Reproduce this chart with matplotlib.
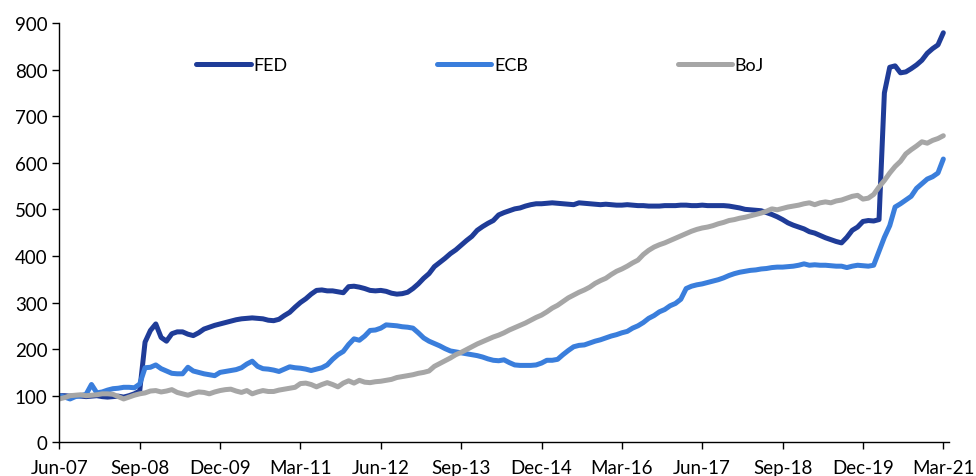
import matplotlib
matplotlib.use("Agg")
import matplotlib.pyplot as plt

plt.rcParams['font.family'] = ['Lato', 'DejaVu Sans']

# Monthly index (Jun-07 = 100), Jun-07 .. Mar-21
fed = [100, 100, 99, 100, 99, 98, 99, 100, 98, 97, 98, 99, 97, 100, 104, 110,
       215, 240, 254, 225, 217, 233, 237, 237, 232, 229, 235, 243, 247, 251,
       254, 257, 260, 263, 265, 266, 267, 266, 265, 262, 261, 264, 272, 279,
       290, 300, 308, 318, 326, 327, 325, 325, 323, 321, 334, 335, 333, 330,
       326, 325, 326, 324, 320, 318, 319, 322, 330, 340, 352, 362, 377, 386,
       395, 405, 413, 423, 433, 442, 455, 463, 470, 476, 488, 493, 497, 501,
       503, 507, 510, 512, 512, 513, 514, 513, 512, 511, 510, 514, 513, 512,
       511, 510, 511, 510, 509, 509, 510, 509, 508, 508, 507, 507, 507, 508,
       508, 508, 509, 509, 508, 508, 509, 508, 508, 508, 508, 507, 505, 503, 500,
       499, 498, 497, 493, 489, 484, 478, 471, 466, 462, 458, 452, 449, 444,
       439, 435, 431, 428, 440, 455, 462, 474, 476, 475, 478, 750, 805, 808,
       793, 795, 802, 810, 820, 835, 845, 853, 879]

ecb = [100, 97, 93, 98, 100, 103, 124, 106, 108, 112, 115, 116, 118, 118, 117,
       125, 160, 161, 166, 158, 153, 148, 147, 147, 161, 153, 150, 147, 145,
       143, 150, 152, 154, 156, 160, 168, 174, 163, 158, 157, 155, 152, 157,
       162, 160, 159, 157, 154, 157, 160, 166, 178, 188, 195, 210, 222, 219,
       228, 240, 241, 245, 252, 251, 250, 248, 247, 245, 235, 224, 217, 212,
       207, 201, 196, 194, 192, 190, 188, 186, 183, 179, 176, 175, 177, 171,
       166, 165, 165, 165, 166, 170, 176, 176, 178, 188, 197, 205, 208, 209,
       213, 217, 220, 224, 228, 231, 235, 238, 245, 250, 257, 266, 272, 280,
       285, 293, 298, 307, 330, 335, 338, 340, 343, 346, 349, 353, 358, 362,
       365, 367, 369, 370, 372, 373, 375, 376, 376, 377, 378, 380, 383, 380,
       381, 380, 380, 379, 378, 378, 375, 378, 380, 379, 378, 380, 410, 440,
       465, 505, 512, 520, 528, 545, 555, 565, 570, 578, 608]

boj = [93, 96, 100, 101, 102, 100, 101, 102, 104, 104, 103, 98, 93, 97, 101,
       104, 106, 110, 111, 108, 110, 113, 107, 104, 101, 105, 108, 107, 104,
       108, 111, 113, 114, 110, 107, 111, 104, 108, 111, 109, 109, 112, 114,
       116, 118, 126, 127, 124, 119, 124, 128, 124, 119, 127, 132, 127, 133,
       129, 128, 130, 131, 133, 135, 139, 141, 143, 145, 148, 150, 153, 163,
       169, 175, 181, 188, 193, 199, 205, 211, 216, 221, 226, 230, 235, 241,
       246, 251, 256, 262, 268, 273, 280, 288, 294, 302, 310, 316, 322, 327,
       333, 341, 347, 352, 360, 367, 372, 378, 385, 391, 403, 412, 419, 424,
       428, 433, 438, 443, 448, 453, 457, 460, 462, 465, 469, 472, 476, 478,
       481, 483, 486, 489, 492, 496, 501, 499, 502, 505, 507, 509, 512, 514,
       510, 514, 516, 514, 518, 520, 524, 528, 530, 522, 524, 532, 548, 562,
       578, 592, 603, 619, 628, 636, 645, 642, 648, 652, 658]

tick_labels = ['Jun-07', 'Sep-08', 'Dec-09', 'Mar-11', 'Jun-12', 'Sep-13',
               'Dec-14', 'Mar-16', 'Jun-17', 'Sep-18', 'Dec-19', 'Mar-21']
series_names = ['FED', 'ECB', 'BoJ']
colors = ['#1F3C98', '#3A7EDC', '#A6A6A6']

fig = plt.figure(figsize=(9.76, 4.77), dpi=100)
ax = fig.add_axes([0.0608, 0.0707, 0.9112, 0.879])

x = list(range(len(fed)))
for vals, name, c in zip([fed, ecb, boj], series_names, colors):
    ax.plot(x, vals, color=c, lw=3.6, label=name, solid_capstyle='round',
            solid_joinstyle='round')

ax.set_xlim(0, 166)
ax.set_ylim(0, 900)
ax.set_yticks(range(0, 901, 100))
ax.set_xticks(range(0, 166, 15))
ax.set_xticklabels(tick_labels)
ax.tick_params(axis='both', direction='out', length=5, width=1, labelsize=13.5,
               colors='black')
ax.tick_params(axis='x', pad=7)
for s in ['top', 'right']:
    ax.spines[s].set_visible(False)
for s in ['left', 'bottom']:
    ax.spines[s].set_color('black')
    ax.spines[s].set_linewidth(1)

ax.legend(loc='center', bbox_to_anchor=(0.492, 0.862),
          bbox_transform=fig.transFigure, ncol=3, frameon=False,
          handlelength=3.0, handletextpad=0.15, columnspacing=8.3,
          fontsize=13)

fig.savefig('out.png', dpi=100)
